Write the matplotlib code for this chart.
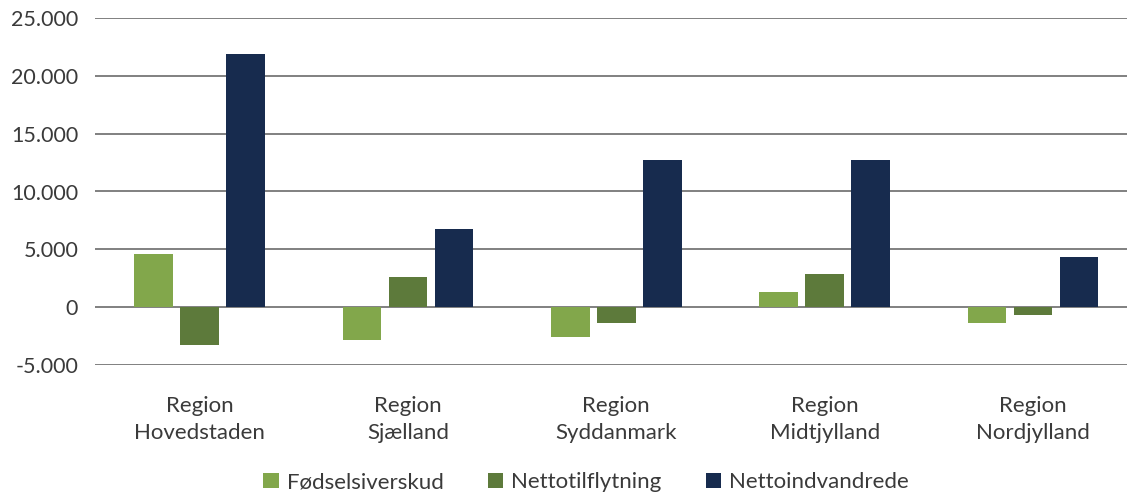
import numpy as np
import matplotlib.pyplot as plt

plt.rcParams['font.family'] = ['Lato', 'DejaVu Sans']

# data
regioner = ['Region\nHovedstaden', 'Region\nSjælland', 'Region\nSyddanmark',
            'Region\nMidtjylland', 'Region\nNordjylland']
foedselsoverskud = [4600, -2800, -2600, 1300, -1350]
nettotilflytning = [-3250, 2600, -1350, 2850, -650]
nettoindvandrede = [21900, 6750, 12750, 12750, 4300]
serier = ['Fødselsiverskud', 'Nettotilflytning', 'Nettoindvandrede']
yticks = [-5000, 0, 5000, 10000, 15000, 20000, 25000]

farver = ['#82a74b', '#5d7a3b', '#172b4e']
tekst = '#3a3a3a'

fig = plt.figure(figsize=(11.27, 4.95), dpi=100)
# aksen går lidt ud over højre kant, som i originalen
ax = fig.add_axes([95.3 / 1127, 130 / 495, 1042 / 1127, 347 / 495])

x = np.arange(len(regioner))
step = 0.221
bredde = 0.185
for i, (vals, navn) in enumerate(zip([foedselsoverskud, nettotilflytning, nettoindvandrede], serier)):
    ax.bar(x + (i - 1) * step, vals, width=bredde, color=farver[i], label=navn, zorder=3)

ax.set_xlim(-0.5, len(regioner) - 0.5)
ax.set_ylim(-5000, 25000)
ax.set_yticks(yticks)
ax.set_yticklabels([f'{v:,}'.replace(',', '.') for v in yticks], fontsize=15.5, color=tekst)
ax.set_xticks(x)
ax.set_xticklabels(regioner, fontsize=16, color=tekst, linespacing=1.45)
ax.tick_params(axis='both', length=0)
ax.tick_params(axis='y', pad=12.3)
ax.tick_params(axis='x', pad=22)
ax.grid(axis='y', color='#808080', linewidth=1.4, zorder=0)
for s in ax.spines.values():
    s.set_visible(False)

fig.legend(loc='center', bbox_to_anchor=(586 / 1127, 12.5 / 495), ncol=3, frameon=False,
           fontsize=16, handlelength=0.68, handleheight=0.68, handletextpad=0.36,
           columnspacing=2.0, labelcolor=tekst)

fig.savefig('out.png', dpi=100)
